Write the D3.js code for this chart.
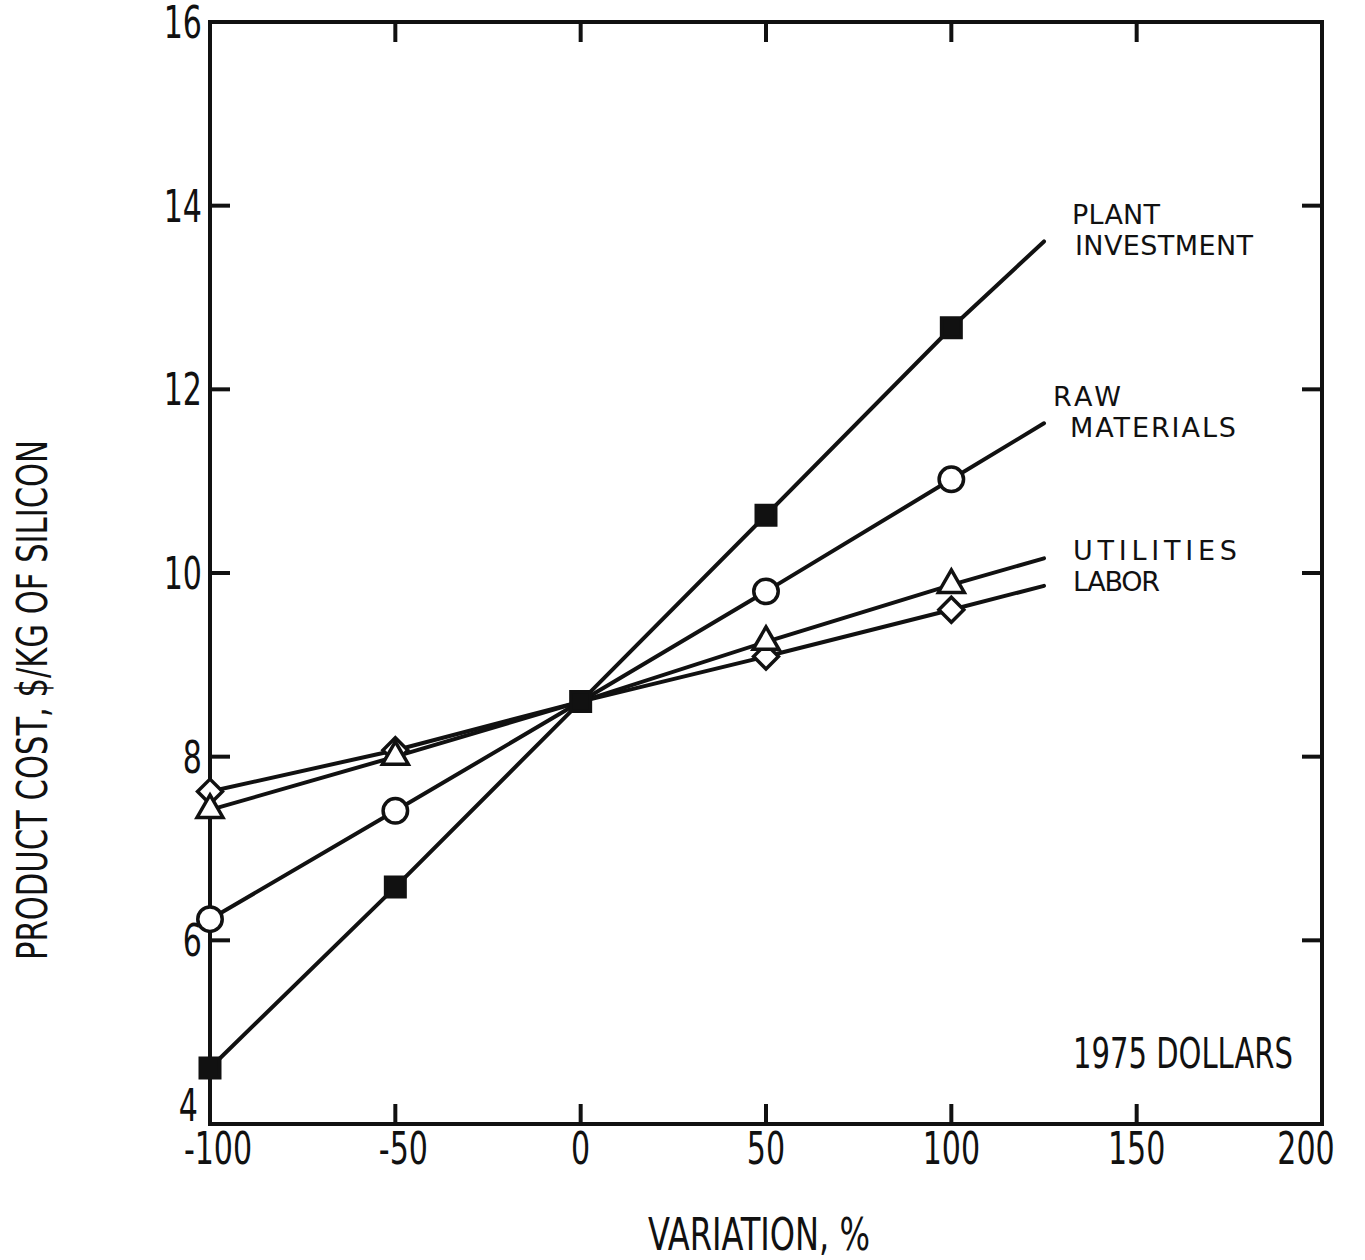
<!DOCTYPE html>
<html>
<head>
<meta charset="utf-8">
<script src="https://cdn.jsdelivr.net/npm/d3@7"></script>
<style>
  body { margin: 0; background: #fff; }
  svg { display: block; }
  .tick-label, .axis-title, .note { font-family: "DejaVu Sans Condensed", "Liberation Sans Narrow", sans-serif; fill: #111; }
  .series-label { font-family: "DejaVu Sans", sans-serif; fill: #111; }
</style>
</head>
<body>
<div id="plot"></div>
<script>
// x positions (variation, %) where markers sit
var variation = [-100, -50, 0, 50, 100];

// product cost at each variation
var plantInvestment = [4.61, 6.58, 8.6, 10.63, 12.67],
    rawMaterials    = [6.23, 7.41, 8.6, 9.80, 11.02],
    utilities       = [7.42, 8.00, 8.6, 9.25, 9.87],
    labor           = [7.62, 8.07, 8.6, 9.09, 9.60];

// lines run on past the last marker to here, then the label
var lineEndX = 125;
var lineEndValues = [13.61, 11.63, 10.16, 9.86];

// axis ticks
var xTicks = [-100, -50, 0, 50, 100, 150, 200],
    yTicks = [4, 6, 8, 10, 12, 14, 16];

// labels next to line ends
var seriesNames = [["PLANT", "INVESTMENT"], ["RAW", "MATERIALS"], ["UTILITIES"], ["LABOR"]];

const W = 1365, H = 1260;
const margin = { top: 22, right: 43, bottom: 136, left: 210 };
const width = W - margin.left - margin.right,
      height = H - margin.top - margin.bottom;

const x = d3.scaleLinear().domain([-100, 200]).range([0, width]);
const y = d3.scaleLinear().domain([4, 16]).range([height, 0]);

const svg = d3.select("#plot").append("svg")
    .attr("width", W).attr("height", H);

const g = svg.append("g")
    .attr("transform", `translate(${margin.left},${margin.top})`);

// frame
g.append("rect")
    .attr("x", 0).attr("y", 0)
    .attr("width", width).attr("height", height)
    .attr("fill", "none").attr("stroke", "#111").attr("stroke-width", 4);

const tickLen = 20;

// inward ticks on all four sides
xTicks.slice(1, -1).forEach(v => {
    g.append("line").attr("x1", x(v)).attr("x2", x(v))
        .attr("y1", height).attr("y2", height - tickLen)
        .attr("stroke", "#111").attr("stroke-width", 4);
    g.append("line").attr("x1", x(v)).attr("x2", x(v))
        .attr("y1", 0).attr("y2", tickLen)
        .attr("stroke", "#111").attr("stroke-width", 4);
});
yTicks.slice(1, -1).forEach(v => {
    g.append("line").attr("x1", 0).attr("x2", tickLen)
        .attr("y1", y(v)).attr("y2", y(v))
        .attr("stroke", "#111").attr("stroke-width", 4);
    g.append("line").attr("x1", width).attr("x2", width - tickLen)
        .attr("y1", y(v)).attr("y2", y(v))
        .attr("stroke", "#111").attr("stroke-width", 4);
});

// tick labels (narrow lettering -> squeeze horizontally)
const sx = 0.76;
g.selectAll(".xlab").data(xTicks).enter().append("text")
    .attr("class", "tick-label")
    .attr("transform", d => `translate(${x(d) + (d == 200 ? -16 : (d < 0 ? 8 : 0))},${height + 40}) scale(${sx},1)`)
    .attr("text-anchor", "middle")
    .attr("font-size", 44)
    .text(d => d);

g.selectAll(".ylab").data(yTicks).enter().append("text")
    .attr("class", "tick-label")
    .attr("transform", d => `translate(${d == 4 ? -12 : -8},${y(d) + (d == 4 ? -3 : 16)}) scale(${sx},1)`)
    .attr("text-anchor", "end")
    .attr("font-size", 44)
    .text(d => d);

// axis titles
svg.append("text")
    .attr("class", "axis-title")
    .attr("x", 648).attr("y", 1250)
    .attr("font-size", 44)
    .attr("textLength", 222)
    .attr("lengthAdjust", "spacingAndGlyphs")
    .text("VARIATION, %");

svg.append("text")
    .attr("class", "axis-title")
    .attr("transform", "translate(47,960) rotate(-90)")
    .attr("font-size", 42)
    .attr("textLength", 520)
    .attr("lengthAdjust", "spacingAndGlyphs")
    .text("PRODUCT COST, $/KG OF SILICON");

// lines
const allSeries = [plantInvestment, rawMaterials, utilities, labor];
const line = d3.line().x(d => x(d[0])).y(d => y(d[1]));

allSeries.forEach((vals, i) => {
    const pts = variation.map((v, j) => [v, vals[j]]);
    pts.push([lineEndX, lineEndValues[i]]);
    g.append("path")
        .datum(pts)
        .attr("d", line)
        .attr("fill", "none")
        .attr("stroke", "#111")
        .attr("stroke-width", 4)
        .attr("stroke-linecap", "round");
});

// markers; at 0 all series meet and only the filled square shows
const symbols = [
    { type: d3.symbolSquare, size: 380, fill: "#111", rot: 0 },
    { type: d3.symbolCircle, size: 470, fill: "#fff", rot: 0 },
    { type: d3.symbolTriangle, size: 290, fill: "#fff", rot: 0 },
    { type: d3.symbolSquare, size: 310, fill: "#fff", rot: 45 }
];
[3, 2, 1, 0].forEach(i => {
    const pts = variation.map((v, j) => [v, allSeries[i][j]])
        .filter(d => i == 0 || d[0] != 0);
    g.selectAll(".m" + i).data(pts)
        .enter().append("path")
        .attr("transform", d => `translate(${x(d[0])},${y(d[1])}) rotate(${symbols[i].rot})`)
        .attr("d", d3.symbol().type(symbols[i].type).size(symbols[i].size))
        .attr("fill", symbols[i].fill)
        .attr("stroke", "#111")
        .attr("stroke-width", 3.5);
});

// series labels, typewriter-like spaced capitals
const labelPos = [
    [[1072, 224, 88], [1075, 255, 178]],
    [[1053, 406, 68], [1070, 437, 166]],
    [[1073, 560, 164]],
    [[1073, 591, 87]]
];
seriesNames.forEach((names, i) => {
    names.forEach((n, k) => {
        svg.append("text")
            .attr("class", "series-label")
            .attr("x", labelPos[i][k][0])
            .attr("y", labelPos[i][k][1])
            .attr("font-size", 27)
            .attr("textLength", labelPos[i][k][2])
            .attr("lengthAdjust", "spacing")
            .text(n);
    });
});

// note
svg.append("text")
    .attr("class", "note")
    .attr("x", 1073).attr("y", 1068)
    .attr("font-size", 42)
    .attr("textLength", 220)
    .attr("lengthAdjust", "spacingAndGlyphs")
    .text("1975 DOLLARS");
</script>
</body>
</html>
